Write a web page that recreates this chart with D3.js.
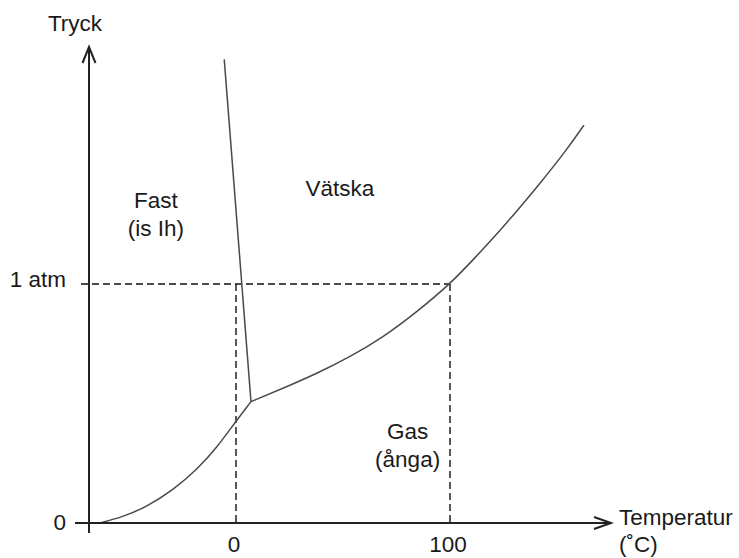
<!DOCTYPE html>
<html>
<head>
<meta charset="utf-8">
<script src="https://cdn.jsdelivr.net/npm/d3@7/dist/d3.min.js"></script>
<style>
  html, body { margin: 0; padding: 0; background: #fff; }
  svg { display: block; }
  text { font-family: "Liberation Sans", Arial, sans-serif; font-size: 22.5px; fill: #1a1a1a; }
</style>
</head>
<body>
<svg id="chart" width="739" height="558"></svg>
<script>
// ---- data (temperature in °C, pressure in atm; schematic) ----
const sublimationT = [-63.6, -52.7, -41.7, -29.3, -18.4, -9.0, -0.5, 7.0];
const sublimationP = [0, 0.026, 0.068, 0.138, 0.222, 0.315, 0.42, 0.508];
const vaporizationT = [7.0, 22.1, 37.7, 53.3, 68.8, 84.4, 100, 110.9, 126.5, 142.1, 154.5, 162.6];
const vaporizationP = [0.508, 0.564, 0.625, 0.695, 0.777, 0.882, 1.0, 1.102, 1.254, 1.421, 1.561, 1.665];
const meltingT = [7.0, -5.5];
const meltingP = [0.508, 1.94];
const xTicks = [0, 100];
const xTickLabels = ["0", "100"];
const yTicks = [0, 1];
const yTickLabels = ["0", "1 atm"];
const regionNames = [["Fast", "(is Ih)"], ["Vätska"], ["Gas", "(ånga)"]];
const regionT = [-37.4, 48.6, 80.2];
const regionP = [1.318, 1.37, 0.352];
const axisTitleX = ["Temperatur", "(˚C)"];
const axisTitleY = "Tryck";

// ---- scales ----
const x = d3.scaleLinear().domain([0, 100]).range([236, 450]);
const y = d3.scaleLinear().domain([0, 1]).range([523, 284]);

const svg = d3.select("#chart");
const zip = (a, b) => a.map((v, i) => [v, b[i]]);
const line = d3.line().x(d => x(d[0])).y(d => y(d[1]));
const smooth = d3.line().x(d => x(d[0])).y(d => y(d[1])).curve(d3.curveBasis);

// dashed guides for 0 °C, 100 °C and 1 atm
const g = svg.append("g").attr("stroke", "#111").attr("stroke-width", 1.4)
  .attr("stroke-dasharray", "7,4").attr("fill", "none");
g.append("line").attr("x1", 81).attr("x2", x(100)).attr("y1", y(1)).attr("y2", y(1));
xTicks.forEach(t => {
  g.append("line").attr("x1", x(t)).attr("x2", x(t)).attr("y1", y(1)).attr("y2", y(0));
});

// phase boundaries
const curves = svg.append("g").attr("fill", "none").attr("stroke", "#4a4a4a")
  .attr("stroke-width", 1.5).attr("stroke-linejoin", "round");
curves.append("path").attr("d", smooth(zip(sublimationT, sublimationP)));
curves.append("path").attr("d", smooth(zip(vaporizationT, vaporizationP)));
curves.append("path").attr("d", line(zip(meltingT, meltingP)));

// axes
const ax = svg.append("g").attr("stroke", "#222").attr("stroke-width", 2).attr("fill", "none");
const axX = 89, axTop = 47, axBottom = 533, axLeft = 75, axRight = 611;
ax.append("line").attr("x1", axX).attr("x2", axX).attr("y1", axTop).attr("y2", axBottom);
ax.append("line").attr("x1", axLeft).attr("x2", axRight).attr("y1", y(0)).attr("y2", y(0));
ax.append("path").attr("d", `M${axX - 6.5},${axTop + 16}L${axX},${axTop}L${axX + 6.5},${axTop + 16}`);
ax.append("path").attr("d", `M${axRight - 17},${y(0) - 6}L${axRight},${y(0)}L${axRight - 17},${y(0) + 6}`);

// tick labels
xTicks.forEach((t, i) => {
  svg.append("text").attr("x", x(t) - 2).attr("y", 552).attr("text-anchor", "middle").text(xTickLabels[i]);
});
yTicks.forEach((p, i) => {
  svg.append("text").attr("x", 66).attr("y", y(p) + (i === 0 ? 7 : 3)).attr("text-anchor", "end").text(yTickLabels[i]);
});

// axis titles
svg.append("text").attr("x", 75).attr("y", 31).attr("text-anchor", "middle").text(axisTitleY);
svg.append("text").attr("x", 619).attr("y", 525).text(axisTitleX[0]);
svg.append("text").attr("x", 619).attr("y", 552).text(axisTitleX[1]);

// region labels
regionNames.forEach((lines, i) => {
  const t = svg.append("text").attr("text-anchor", "middle")
    .attr("x", x(regionT[i])).attr("y", y(regionP[i]));
  lines.forEach((s, j) => {
    t.append("tspan").attr("x", x(regionT[i])).attr("dy", j === 0 ? 0 : 28).text(s);
  });
});
</script>
</body>
</html>
